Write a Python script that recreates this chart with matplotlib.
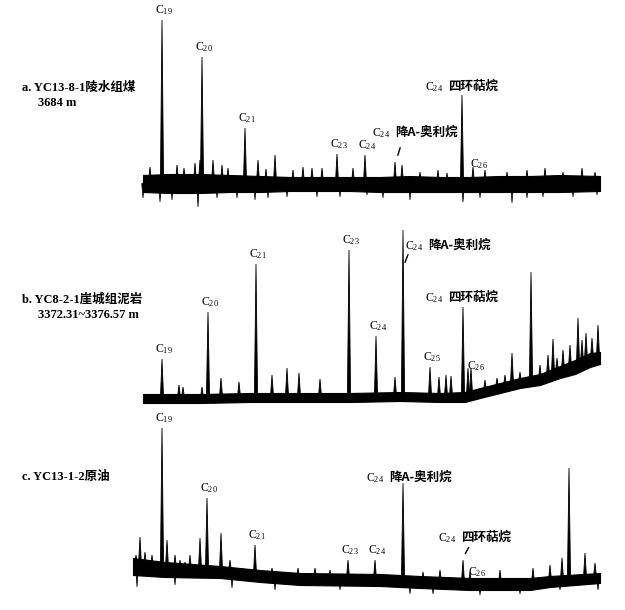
import numpy as np
import matplotlib.pyplot as plt

plt.rcParams['font.family'] = ['Liberation Serif', 'Noto Sans CJK SC', 'DejaVu Sans']
plt.rcParams['mathtext.fontset'] = 'custom'
plt.rcParams['mathtext.rm'] = 'Liberation Serif'
plt.rcParams['mathtext.default'] = 'rm'

# ---- a. YC13-8-1 coal: noise band envelope (retention position, intensity)
a_band_x = [143, 170, 200, 230, 260, 290, 320, 350, 380, 410, 440, 470, 500, 530, 560, 600]
a_band_hi = [8, 9, 9, 8, 7, 6, 6, 6, 6, 7, 6, 6, 7, 7, 8, 7]
a_band_lo = [-9, -10, -10, -9, -9, -8, -8, -8, -9, -9, -9, -9, -9, -9, -9, -8]
a_peak_x = [150, 162, 177, 184, 195, 200, 202, 213, 222, 228, 245, 258, 266, 275, 293,
            303, 312, 322, 337, 353, 365, 395, 402, 420, 438, 447, 462, 473, 485, 507,
            527, 545, 563, 582, 595]
a_peak_h = [16, 163, 18, 15, 20, 23, 126, 23, 18, 15, 55, 23, 14, 28, 13,
            16, 15, 15, 29, 15, 28, 21, 18, 11, 13, 10, 88, 16, 13, 11,
            13, 15, 11, 15, 11]
a_dip_x = [143, 160, 172, 198, 217, 237, 255, 268, 287, 317, 340, 367, 383, 410, 463,
           480, 512, 527, 543, 573, 597]
a_dip_h = [-15, -19, -17, -24, -15, -15, -17, -15, -14, -14, -14, -12, -15, -17, -19,
           -15, -20, -15, -14, -14, -12]

# ---- b. YC8-2-1 mudstone
b_band_x = [143, 200, 250, 300, 350, 400, 440, 465, 480, 500, 520, 540, 560, 575, 590, 600]
b_band_hi = [6, 6, 7, 7, 7, 8, 7, 8, 12, 17, 22, 26, 34, 40, 47, 48]
b_band_lo = [-3, -3, -2, -2, -2, -1, -2, -2, 2, 7, 12, 15, 22, 26, 33, 36]
b_peak_x = [162, 179, 183, 202, 208, 221, 239, 256, 272, 287, 299, 320, 349, 376, 395,
            403, 430, 439, 446, 451, 463, 468, 471, 485, 497, 505, 512, 520, 531, 540,
            548, 553, 557, 563, 570, 578, 582, 586, 592, 598]
b_peak_h = [41, 15, 13, 13, 88, 22, 18, 136, 25, 32, 27, 21, 150, 64, 23,
            170, 33, 23, 25, 24, 93, 32, 32, 20, 22, 25, 47, 28, 128, 35,
            45, 61, 42, 50, 55, 82, 60, 67, 62, 75]

# ---- c. YC13-1-2 crude oil
c_band_x = [133, 165, 220, 260, 300, 380, 420, 470, 530, 550, 600]
c_band_hi = [22, 18, 14, 10, 7, 6, 4, 2, 2, 4, 7]
c_band_lo = [5, 3, 2, -2, -5, -6, -8, -10, -10, -7, -3]
c_peak_x = [136, 140, 145, 152, 162, 167, 175, 180, 185, 190, 200, 207, 221, 230, 255,
            272, 298, 315, 330, 348, 375, 403, 423, 440, 463, 470, 500, 533, 550, 562,
            569, 585, 595]
c_peak_h = [25, 43, 28, 25, 152, 40, 25, 20, 18, 25, 42, 82, 47, 20, 35,
            12, 12, 12, 10, 20, 20, 97, 8, 10, 20, 8, 10, 12, 15, 22,
            112, 27, 17]
c_dip_x = [137, 175, 232, 275, 340, 410, 433, 480, 520, 560, 598]
c_dip_h = [-7, -5, -8, -10, -10, -14, -14, -15, -14, -10, -10]

# peak labels: (position, carbon number)
a_labels = [(162, 19), (202, 20), (245, 21), (337, 23), (365, 24)]
b_labels = [(162, 19), (208, 20), (256, 21), (349, 23), (376, 24), (430, 25)]
c_labels = [(162, 19), (207, 20), (255, 21), (348, 23), (375, 24)]


def draw_trace(ax, bx, lo, hi, px, ph, dx=None, dh=None):
    bx = np.asarray(bx, float)
    lo = np.asarray(lo, float)
    hi = np.asarray(hi, float)
    mid = (lo + hi) / 2
    ax.fill_between(bx, lo, hi, color='black', lw=0.8)
    for x, h in zip(px, ph):
        foot = np.interp(x, bx, mid)
        ax.fill([x - 1.6, x, x + 1.6], [foot, h, foot], color='black', lw=0.6)
    if dx is not None:
        for x, h in zip(dx, dh):
            foot = np.interp(x, bx, mid)
            ax.fill([x - 1.3, x, x + 1.3], [foot, h, foot], color='black', lw=0.5)


def c_label(ax, x, y, n):
    ax.annotate(f'C$_{{{n}}}$', (x, y), xytext=(1.5, 2), textcoords='offset points',
                ha='center', va='bottom', fontsize=8.5)


kw_cn = dict(fontsize=9, va='center', family=['Noto Sans CJK SC', 'DejaVu Sans'], weight='bold')


def named(ax, x, y, cn):
    ax.annotate('C$_{24}$', (x, y), xytext=(-1, -1), textcoords='offset points',
                ha='right', va='center', fontsize=8.5)
    ax.annotate(cn, (x, y), xytext=(2, 0), textcoords='offset points', ha='left', **kw_cn)


fig = plt.figure(figsize=(6.25, 6.1), dpi=100)
ax_a = fig.add_axes([0, 1 - 215 / 610, 1, 215 / 610])
ax_b = fig.add_axes([0, 1 - 410 / 610, 1, 195 / 610])
ax_c = fig.add_axes([0, 0, 1, 200 / 610])
for ax, yl in [(ax_a, (-32, 183)), (ax_b, (-10, 185)), (ax_c, (-30, 170))]:
    ax.set_xlim(0, 625)
    ax.set_ylim(*yl)
    ax.axis('off')

draw_trace(ax_a, a_band_x, a_band_lo, a_band_hi, a_peak_x, a_peak_h, a_dip_x, a_dip_h)
draw_trace(ax_b, b_band_x, b_band_lo, b_band_hi, b_peak_x, b_peak_h)
draw_trace(ax_c, c_band_x, c_band_lo, c_band_hi, c_peak_x, c_peak_h, c_dip_x, c_dip_h)

for ax, labs, px, ph in [(ax_a, a_labels, a_peak_x, a_peak_h),
                         (ax_b, b_labels, b_peak_x, b_peak_h),
                         (ax_c, c_labels, c_peak_x, c_peak_h)]:
    for x, n in labs:
        c_label(ax, x, ph[px.index(x)], n)

leader = dict(arrowstyle='-', color='black', lw=1)

# panel a
named(ax_a, 392, 51, '降A-奥利烷')
ax_a.annotate('', xy=(397, 25), xytext=(401, 38), arrowprops=leader)
named(ax_a, 445, 97, '四环萜烷')
ax_a.text(470, 19, 'C$_{26}$', ha='left', va='center', fontsize=8.5)

# panel b
named(ax_b, 425, 155, '降A-奥利烷')
ax_b.annotate('', xy=(404, 135), xytext=(409, 148), arrowprops=leader)
named(ax_b, 445, 103, '四环萜烷')
ax_b.text(467, 34, 'C$_{26}$', ha='left', va='center', fontsize=8.5)

# panel c
named(ax_c, 386, 103, '降A-奥利烷')
named(ax_c, 458, 43, '四环萜烷')
ax_c.annotate('', xy=(464, 24), xytext=(470, 35), arrowprops=leader)
ax_c.text(468, 8, 'C$_{26}$', ha='left', va='center', fontsize=8.5)

# sample labels
kw_s = dict(fontsize=9, weight='bold', va='center',
            family=['Liberation Serif', 'Noto Sans CJK SC'])
fig.text(22 / 625, 1 - 88 / 610, 'a. YC13-8-1陵水组煤', **kw_s)
fig.text(38 / 625, 1 - 103 / 610, '3684 m', **kw_s)
fig.text(22 / 625, 1 - 300 / 610, 'b. YC8-2-1崖城组泥岩', **kw_s)
fig.text(38 / 625, 1 - 315 / 610, '3372.31~3376.57 m', **kw_s)
fig.text(22 / 625, 1 - 477 / 610, 'c. YC13-1-2原油', **kw_s)

fig.savefig('out.png', dpi=100)
